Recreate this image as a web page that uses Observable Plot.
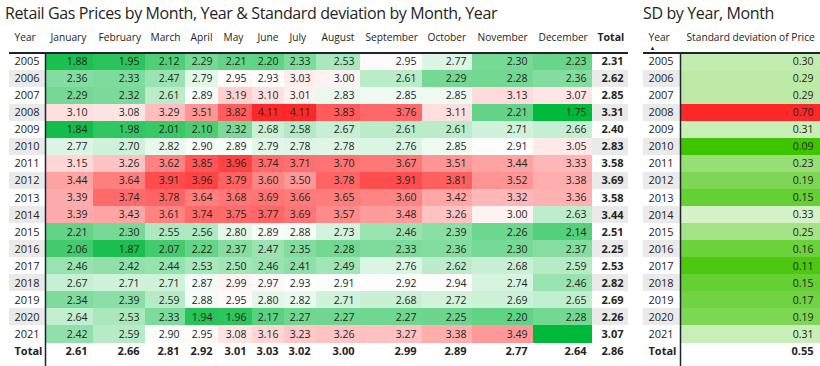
<!DOCTYPE html>
<html><head><meta charset="utf-8">
<script src="https://cdn.jsdelivr.net/npm/d3@7"></script>
<script src="https://cdn.jsdelivr.net/npm/@observablehq/plot@0.6"></script>
<style>
body{margin:0;background:#fff;font-family:"Open Sans",sans-serif;}
#wrap{position:relative;width:820px;height:366px;overflow:hidden;background:#fff}
#left{position:absolute;left:0;top:0}
#right{position:absolute;left:635px;top:0}
.title{position:absolute;top:2px;font-size:16px;color:#252423;white-space:nowrap;letter-spacing:-0.38px}
g[aria-label="header"] text{letter-spacing:-0.25px}
</style></head><body>
<div id="wrap">
<div id="left"></div><div id="right"></div>
<div class="title" style="left:5px">Retail Gas Prices by Month, Year &amp; Standard deviation by Month, Year</div>
<div class="title" style="left:643px">SD by Year, Month</div>
</div>
<script>
// ---------- DATA ----------
const years = [2005,2006,2007,2008,2009,2010,2011,2012,2013,2014,2015,2016,2017,2018,2019,2020,2021];
const months = ["January","February","March","April","May","June","July","August","September","October","November","December"];
const p2005 = [1.88,1.95,2.12,2.29,2.21,2.20,2.33,2.53,2.95,2.77,2.30,2.23];
const p2006 = [2.36,2.33,2.47,2.79,2.95,2.93,3.03,3.00,2.61,2.29,2.28,2.36];
const p2007 = [2.29,2.32,2.61,2.89,3.19,3.10,3.01,2.83,2.85,2.85,3.13,3.07];
const p2008 = [3.10,3.08,3.29,3.51,3.82,4.11,4.11,3.83,3.76,3.11,2.21,1.75];
const p2009 = [1.84,1.98,2.01,2.10,2.32,2.68,2.58,2.67,2.61,2.61,2.71,2.66];
const p2010 = [2.77,2.70,2.82,2.90,2.89,2.79,2.78,2.78,2.76,2.85,2.91,3.05];
const p2011 = [3.15,3.26,3.62,3.85,3.96,3.74,3.71,3.70,3.67,3.51,3.44,3.33];
const p2012 = [3.44,3.64,3.91,3.96,3.79,3.60,3.50,3.78,3.91,3.81,3.52,3.38];
const p2013 = [3.39,3.74,3.78,3.64,3.68,3.69,3.66,3.65,3.60,3.42,3.32,3.36];
const p2014 = [3.39,3.43,3.61,3.74,3.75,3.77,3.69,3.57,3.48,3.26,3.00,2.63];
const p2015 = [2.21,2.30,2.55,2.56,2.80,2.89,2.88,2.73,2.46,2.39,2.26,2.14];
const p2016 = [2.06,1.87,2.07,2.22,2.37,2.47,2.35,2.28,2.33,2.36,2.30,2.37];
const p2017 = [2.46,2.42,2.44,2.53,2.50,2.46,2.41,2.49,2.76,2.62,2.68,2.59];
const p2018 = [2.67,2.71,2.71,2.87,2.99,2.97,2.93,2.91,2.92,2.94,2.74,2.46];
const p2019 = [2.34,2.39,2.59,2.88,2.95,2.80,2.82,2.71,2.68,2.72,2.69,2.65];
const p2020 = [2.64,2.53,2.33,1.94,1.96,2.17,2.27,2.27,2.27,2.25,2.20,2.28];
const p2021 = [2.42,2.59,2.90,2.95,3.08,3.16,3.23,3.26,3.27,3.38,3.49,null];
const yearTotals = [2.31,2.62,2.85,3.31,2.40,2.83,3.58,3.69,3.58,3.44,2.51,2.25,2.53,2.82,2.69,2.26,3.07];
const monthTotals = [2.61,2.66,2.81,2.92,3.01,3.03,3.02,3.00,2.99,2.89,2.77,2.64];
const grandTotal = 2.86;
const sdByYear = [0.30,0.29,0.29,0.70,0.31,0.09,0.23,0.19,0.15,0.33,0.25,0.16,0.11,0.15,0.17,0.19,0.31];
const sdTotal = 0.55;

// ---------- LAYOUT ----------
const priceRows = [p2005,p2006,p2007,p2008,p2009,p2010,p2011,p2012,p2013,p2014,p2015,p2016,p2017,p2018,p2019,p2020,p2021];
const E = [45,93,145,185,218,252,284,316,360,422,472,533,592,628]; // column edges (px)
const ROW_TOP = 52.5, ROW_H = 17.06, NROWS = 18;
const HEADER_Y = (37 - ROW_TOP) / ROW_H;
const BOTTOM_Y = (366 - ROW_TOP) / ROW_H;
const INK = "#252423", LINE = "#1f2330", STRIPE = "#eaeaea";
const FONT = "'Open Sans', sans-serif";
const yScale = {type: "linear", domain: [0, NROWS], range: [ROW_TOP, ROW_TOP + NROWS * ROW_H], axis: null};

const cells = priceRows.flatMap((row, r) => row.map((v, m) => ({r, m, v})));
const allVals = cells.filter(d => d.v != null).map(d => d.v);
const minV = d3.min(allVals), maxV = d3.max(allVals);
const midV = (minV + maxV) / 2;
const totalIdx = years.length;
const stripeRows = years.map((y, i) => i).filter(i => i % 2 === 1);

const left = Plot.plot({
  width: 635, height: 366, margin: 0,
  style: {fontFamily: FONT, fontSize: "10.5px", color: INK, background: "transparent"},
  x: {type: "linear", domain: [0, 635], range: [0, 635], axis: null},
  y: yScale,
  color: {type: "linear", domain: [minV, midV, maxV], range: ["#00b83a", "#ffffff", "#ff2828"], interpolate: "rgb"},
  marks: [
    Plot.rect(stripeRows, {x1: 9, x2: E[0], y1: d => d, y2: d => d + 1, fill: STRIPE, shapeRendering: "crispEdges"}),
    Plot.rect(stripeRows, {x1: E[12], x2: E[13], y1: d => d, y2: d => d + 1, fill: STRIPE, shapeRendering: "crispEdges"}),
    Plot.rect(cells, {x1: d => E[d.m], x2: d => E[d.m + 1], y1: d => d.r, y2: d => d.r + 1,
      fill: d => d.v ?? minV, shapeRendering: "crispEdges"}),
    Plot.text(cells.filter(d => d.v != null), {x: d => E[d.m + 1] - 6, y: d => d.r + 0.5, text: d => d.v.toFixed(2), textAnchor: "end", fill: INK}),
    Plot.text(years, {x: 14, y: (d, i) => i + 0.5, text: d => String(d), textAnchor: "start", fill: INK, fontSize: 11}),
    Plot.text(["Total"], {x: 14, y: totalIdx + 0.5, text: d => d, textAnchor: "start", fontWeight: "bold", fill: INK, fontSize: 11}),
    Plot.text(yearTotals, {x: E[13] - 5, y: (d, i) => i + 0.5, text: d => d.toFixed(2), textAnchor: "end", fontWeight: "bold", fill: INK, fontSize: 11}),
    Plot.text(monthTotals, {x: (d, i) => E[i + 1] - 6, y: totalIdx + 0.5, text: d => d.toFixed(2), textAnchor: "end", fontWeight: "bold", fill: INK, fontSize: 11}),
    Plot.text([grandTotal], {x: E[13] - 5, y: totalIdx + 0.5, text: d => d.toFixed(2), textAnchor: "end", fontWeight: "bold", fill: INK, fontSize: 11}),
    Plot.text(["Year", ...months], {x: (d, i) => i === 0 ? 14 : E[i - 1] + 5, y: HEADER_Y, text: d => d, textAnchor: "start", fill: INK, fontSize: 10.2, ariaLabel: "header"}),
    Plot.text(["Total"], {x: E[12] + 5, y: HEADER_Y, text: d => d, textAnchor: "start", fontWeight: "bold", fill: INK, fontSize: 10.5, ariaLabel: "header"}),
    Plot.ruleY([0], {x1: 9, x2: E[13], stroke: LINE, strokeWidth: 1.8}),
    Plot.ruleX([E[0]], {y1: 0, y2: BOTTOM_Y, stroke: LINE, strokeWidth: 1.5})
  ]
});
document.getElementById("left").append(left);

// ---------- SD table ----------
const sdRows = sdByYear.map((v, r) => ({r, v}));
const sdMin = d3.min(sdByYear), sdMax = d3.max(sdByYear);
const RX = {yearL: 8, sep: 45, end: 185, text: 13, valEnd: 178};
const right = Plot.plot({
  width: 185, height: 366, margin: 0,
  style: {fontFamily: FONT, fontSize: "10.5px", color: INK, background: "transparent"},
  x: {type: "linear", domain: [0, 185], range: [0, 185], axis: null},
  y: yScale,
  color: {type: "linear", domain: [sdMin, (sdMin + sdMax) / 2, sdMax], range: ["#3fc400", "#ffffff", "#ff2828"], interpolate: "rgb"},
  marks: [
    Plot.rect(stripeRows, {x1: RX.yearL, x2: RX.sep, y1: d => d, y2: d => d + 1, fill: STRIPE, shapeRendering: "crispEdges"}),
    Plot.rect(sdRows, {x1: RX.sep, x2: RX.end, y1: d => d.r, y2: d => d.r + 1, fill: d => d.v, shapeRendering: "crispEdges"}),
    Plot.text(sdRows, {x: RX.valEnd, y: d => d.r + 0.5, text: d => d.v.toFixed(2), textAnchor: "end", fill: INK}),
    Plot.text(years, {x: RX.text, y: (d, i) => i + 0.5, text: d => String(d), textAnchor: "start", fill: INK, fontSize: 11}),
    Plot.text(["Total"], {x: RX.text, y: totalIdx + 0.5, text: d => d, textAnchor: "start", fontWeight: "bold", fill: INK, fontSize: 11}),
    Plot.text([sdTotal], {x: RX.valEnd, y: totalIdx + 0.5, text: d => d.toFixed(2), textAnchor: "end", fontWeight: "bold", fill: INK, fontSize: 11}),
    Plot.text(["Year"], {x: RX.text, y: HEADER_Y, text: d => d, textAnchor: "start", fill: INK, fontSize: 10.2, ariaLabel: "header"}),
    Plot.text(["▲"], {x: RX.text + 4, y: (47.5 - ROW_TOP) / ROW_H, text: d => d, fill: INK, fontSize: 6}),
    Plot.text(["Standard deviation of Price"], {x: 51, y: HEADER_Y, text: d => d, textAnchor: "start", fill: INK, fontSize: 10.2, ariaLabel: "header"}),
    Plot.ruleY([0], {x1: RX.yearL, x2: RX.end, stroke: LINE, strokeWidth: 1.8}),
    Plot.ruleX([RX.sep], {y1: 0, y2: BOTTOM_Y, stroke: LINE, strokeWidth: 1.5})
  ]
});
document.getElementById("right").append(right);
</script>
</body></html>
